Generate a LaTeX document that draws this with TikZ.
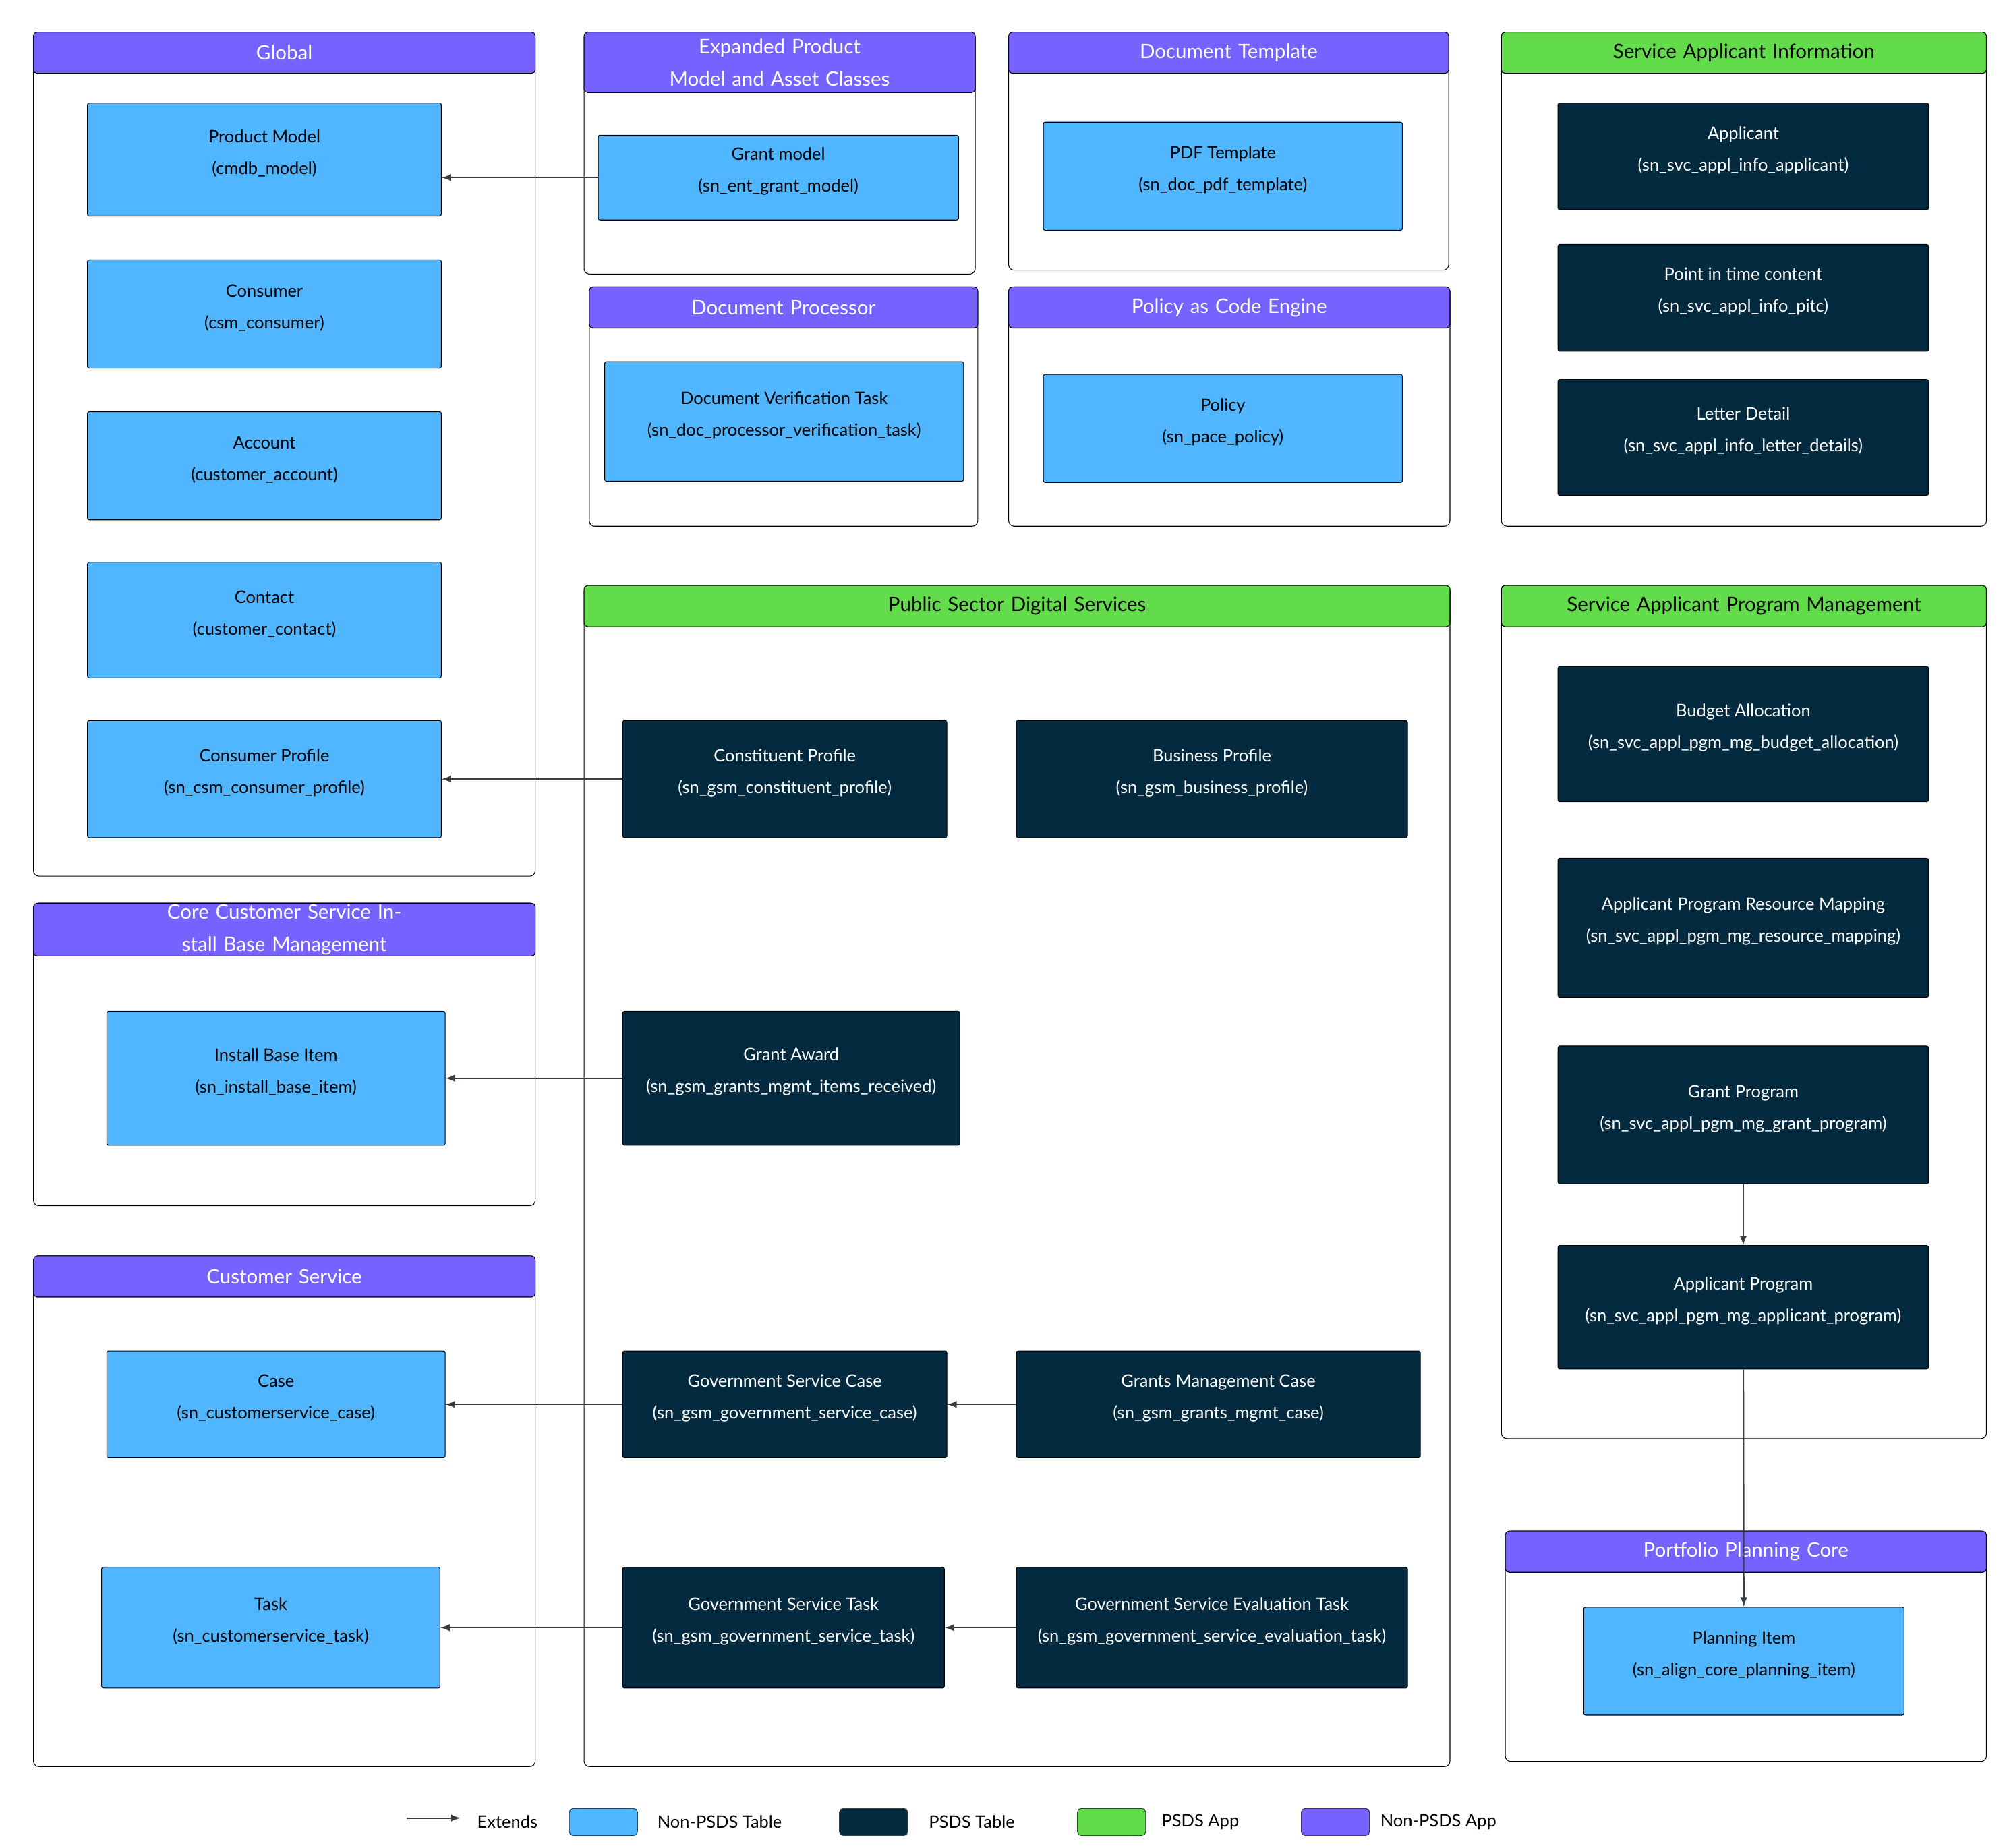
\documentclass[tikz,border=0pt]{standalone}
\usepackage{fontspec}
\setmainfont{Lato}
\usetikzlibrary{fit}
\definecolor{nonpsdstbl}{HTML}{4FB6FF}
\definecolor{psdstbl}{HTML}{032A3F}
\definecolor{psdsapp}{HTML}{62DC4A}
\definecolor{nonpsdsapp}{HTML}{7662FF}
\definecolor{edge}{HTML}{3A3F45}
\tikzset{
  tbl/.style={draw=black, rounded corners=1pt, inner sep=0pt, align=center,
    font=\fontsize{9.5}{17.5}\selectfont},
  nonpsds/.style={tbl, fill=nonpsdstbl, text=black},
  psds/.style={tbl, fill=psdstbl, text=white},
  extends/.style={draw=edge, thick, -latex}
}
% container: x1,y1,x2,y2,header bottom,colour,title
\newcommand{\appbox}[7]{%
  \draw[rounded corners=3pt] (#1,#2) rectangle (#3,#4);
  \draw[fill=#6, rounded corners=2pt] (#1,#2) rectangle (#3,#5);
  \node[font=\fontsize{11}{18}\selectfont, text=#7, align=center, text width=72mm]
    at ({(#1+#3)/2},{(#2+#5)/2}) {\Title};}
\newcommand{\Title}{}
% table: name,x1,y1,x2,y2,style,text
\newcommand{\tbl}[7]{\node[#6, fit={(#2,#3) (#4,#5)}] (#1) {#7};}
\begin{document}
\begin{tikzpicture}[x=0.25mm,y=-0.25mm]
\useasboundingbox (0,0) rectangle (1560,1436);

% apps
\renewcommand{\Title}{Global}\appbox{26}{25}{416}{681}{57}{nonpsdsapp}{white}
\renewcommand{\Title}{Expanded Product Model and Asset Classes}\appbox{454}{25}{758}{213}{72}{nonpsdsapp}{white}
\renewcommand{\Title}{Document Template}\appbox{784}{25}{1126}{210}{57}{nonpsdsapp}{white}
\renewcommand{\Title}{Service Applicant Information}\appbox{1167}{25}{1544}{409}{57}{psdsapp}{black}
\renewcommand{\Title}{Document Processor}\appbox{458}{223}{760}{409}{255}{nonpsdsapp}{white}
\renewcommand{\Title}{Policy as Code Engine}\appbox{784}{223}{1127}{409}{255}{nonpsdsapp}{white}
\renewcommand{\Title}{Public Sector Digital Services}\appbox{454}{455}{1127}{1373}{487}{psdsapp}{black}
\renewcommand{\Title}{Service Applicant Program Management}\appbox{1167}{455}{1544}{1118}{487}{psdsapp}{black}
\renewcommand{\Title}{Core Customer Service Install Base Management}\appbox{26}{702}{416}{937}{743}{nonpsdsapp}{white}
\renewcommand{\Title}{Customer Service}\appbox{26}{976}{416}{1373}{1008}{nonpsdsapp}{white}
\renewcommand{\Title}{Portfolio Planning Core}\appbox{1170}{1190}{1544}{1369}{1222}{nonpsdsapp}{white}

% tables
\tbl{prodmodel}{68}{80}{343}{168}{nonpsds}{Product Model\\(cmdb\_model)}
\tbl{consumer}{68}{202}{343}{286}{nonpsds}{Consumer\\(csm\_consumer)}
\tbl{account}{68}{320}{343}{404}{nonpsds}{Account\\(customer\_account)}
\tbl{contact}{68}{437}{343}{527}{nonpsds}{Contact\\(customer\_contact)}
\tbl{consprofile}{68}{560}{343}{651}{nonpsds}{Consumer Profile\\(sn\_csm\_consumer\_profile)}
\tbl{grantmodel}{465}{105}{745}{171}{nonpsds}{Grant model\\(sn\_ent\_grant\_model)}
\tbl{pdftpl}{811}{95}{1090}{179}{nonpsds}{PDF Template\\(sn\_doc\_pdf\_template)}
\tbl{docverif}{470}{281}{749}{374}{nonpsds}{Document Verification Task\\(sn\_doc\_processor\_verification\_task)}
\tbl{policy}{811}{291}{1090}{375}{nonpsds}{Policy\\(sn\_pace\_policy)}
\tbl{applicant}{1211}{80}{1499}{163}{psds}{Applicant\\(sn\_svc\_appl\_info\_applicant)}
\tbl{pitc}{1211}{190}{1499}{273}{psds}{Point in time content\\(sn\_svc\_appl\_info\_pitc)}
\tbl{letter}{1211}{295}{1499}{385}{psds}{Letter Detail\\(sn\_svc\_appl\_info\_letter\_details)}
\tbl{constprofile}{484}{560}{736}{651}{psds}{Constituent Profile\\(sn\_gsm\_constituent\_profile)}
\tbl{busprofile}{790}{560}{1094}{651}{psds}{Business Profile\\(sn\_gsm\_business\_profile)}
\tbl{installbase}{83}{786}{346}{890}{nonpsds}{Install Base Item\\(sn\_install\_base\_item)}
\tbl{grantaward}{484}{786}{746}{890}{psds}{Grant Award\\(sn\_gsm\_grants\_mgmt\_items\_received)}
\tbl{budget}{1211}{518}{1499}{623}{psds}{Budget Allocation\\(sn\_svc\_appl\_pgm\_mg\_budget\_allocation)}
\tbl{resmap}{1211}{667}{1499}{775}{psds}{Applicant Program Resource Mapping\\(sn\_svc\_appl\_pgm\_mg\_resource\_mapping)}
\tbl{grantprog}{1211}{813}{1499}{920}{psds}{Grant Program\\(sn\_svc\_appl\_pgm\_mg\_grant\_program)}
\tbl{applprog}{1211}{968}{1499}{1064}{psds}{Applicant Program\\(sn\_svc\_appl\_pgm\_mg\_applicant\_program)}
\tbl{case}{83}{1050}{346}{1133}{nonpsds}{Case\\(sn\_customerservice\_case)}
\tbl{govcase}{484}{1050}{736}{1133}{psds}{Government Service Case\\(sn\_gsm\_government\_service\_case)}
\tbl{grantscase}{790}{1050}{1104}{1133}{psds}{Grants Management Case\\(sn\_gsm\_grants\_mgmt\_case)}
\tbl{task}{79}{1218}{342}{1312}{nonpsds}{Task\\(sn\_customerservice\_task)}
\tbl{govtask}{484}{1218}{734}{1312}{psds}{Government Service Task\\(sn\_gsm\_government\_service\_task)}
\tbl{evaltask}{790}{1218}{1094}{1312}{psds}{Government Service Evaluation Task\\(sn\_gsm\_government\_service\_evaluation\_task)}
\tbl{planning}{1231}{1249}{1480}{1333}{nonpsds}{Planning Item\\(sn\_align\_core\_planning\_item)}

% extends
\draw[extends] (grantmodel) -- (grantmodel -| prodmodel.east);
\draw[extends] (constprofile) -- (constprofile -| consprofile.east);
\draw[extends] (grantaward) -- (grantaward -| installbase.east);
\draw[extends] (govcase) -- (govcase -| case.east);
\draw[extends] (grantscase) -- (grantscase -| govcase.east);
\draw[extends] (govtask) -- (govtask -| task.east);
\draw[extends] (evaltask) -- (evaltask -| govtask.east);
\draw[extends] (grantprog) -- (applprog);
\draw[extends] (applprog) -- (planning);

% legend
\coordinate (lgA) at (316,1413);
\coordinate (lgB) at (358,1413);
\draw[extends] (lgA) -- (lgB);
\node[anchor=west, font=\fontsize{9.5}{12}\selectfont] (lgext) at (366,1416) {Extends};
\node[draw=edge, fill=nonpsdstbl, rounded corners=2pt, minimum width=53*0.25mm, minimum height=21*0.25mm] (lg1) at (469,1416) {};
\node[anchor=west, font=\fontsize{9.5}{12}\selectfont] (lg1t) at (506,1416) {Non-PSDS Table};
\node[draw=edge, fill=psdstbl, rounded corners=2pt, minimum width=53*0.25mm, minimum height=21*0.25mm] (lg2) at (679,1416) {};
\node[anchor=west, font=\fontsize{9.5}{12}\selectfont] (lg2t) at (717,1416) {PSDS Table};
\node[draw=edge, fill=psdsapp, rounded corners=2pt, minimum width=53*0.25mm, minimum height=21*0.25mm] (lg3) at (864,1416) {};
\node[anchor=west, font=\fontsize{9.5}{12}\selectfont] (lg3t) at (898,1416) {PSDS App};
\node[draw=edge, fill=nonpsdsapp, rounded corners=2pt, minimum width=53*0.25mm, minimum height=21*0.25mm] (lg4) at (1038,1416) {};
\node[anchor=west, font=\fontsize{9.5}{12}\selectfont] (lg4t) at (1068,1416) {Non-PSDS App};
\end{tikzpicture}
\end{document}
